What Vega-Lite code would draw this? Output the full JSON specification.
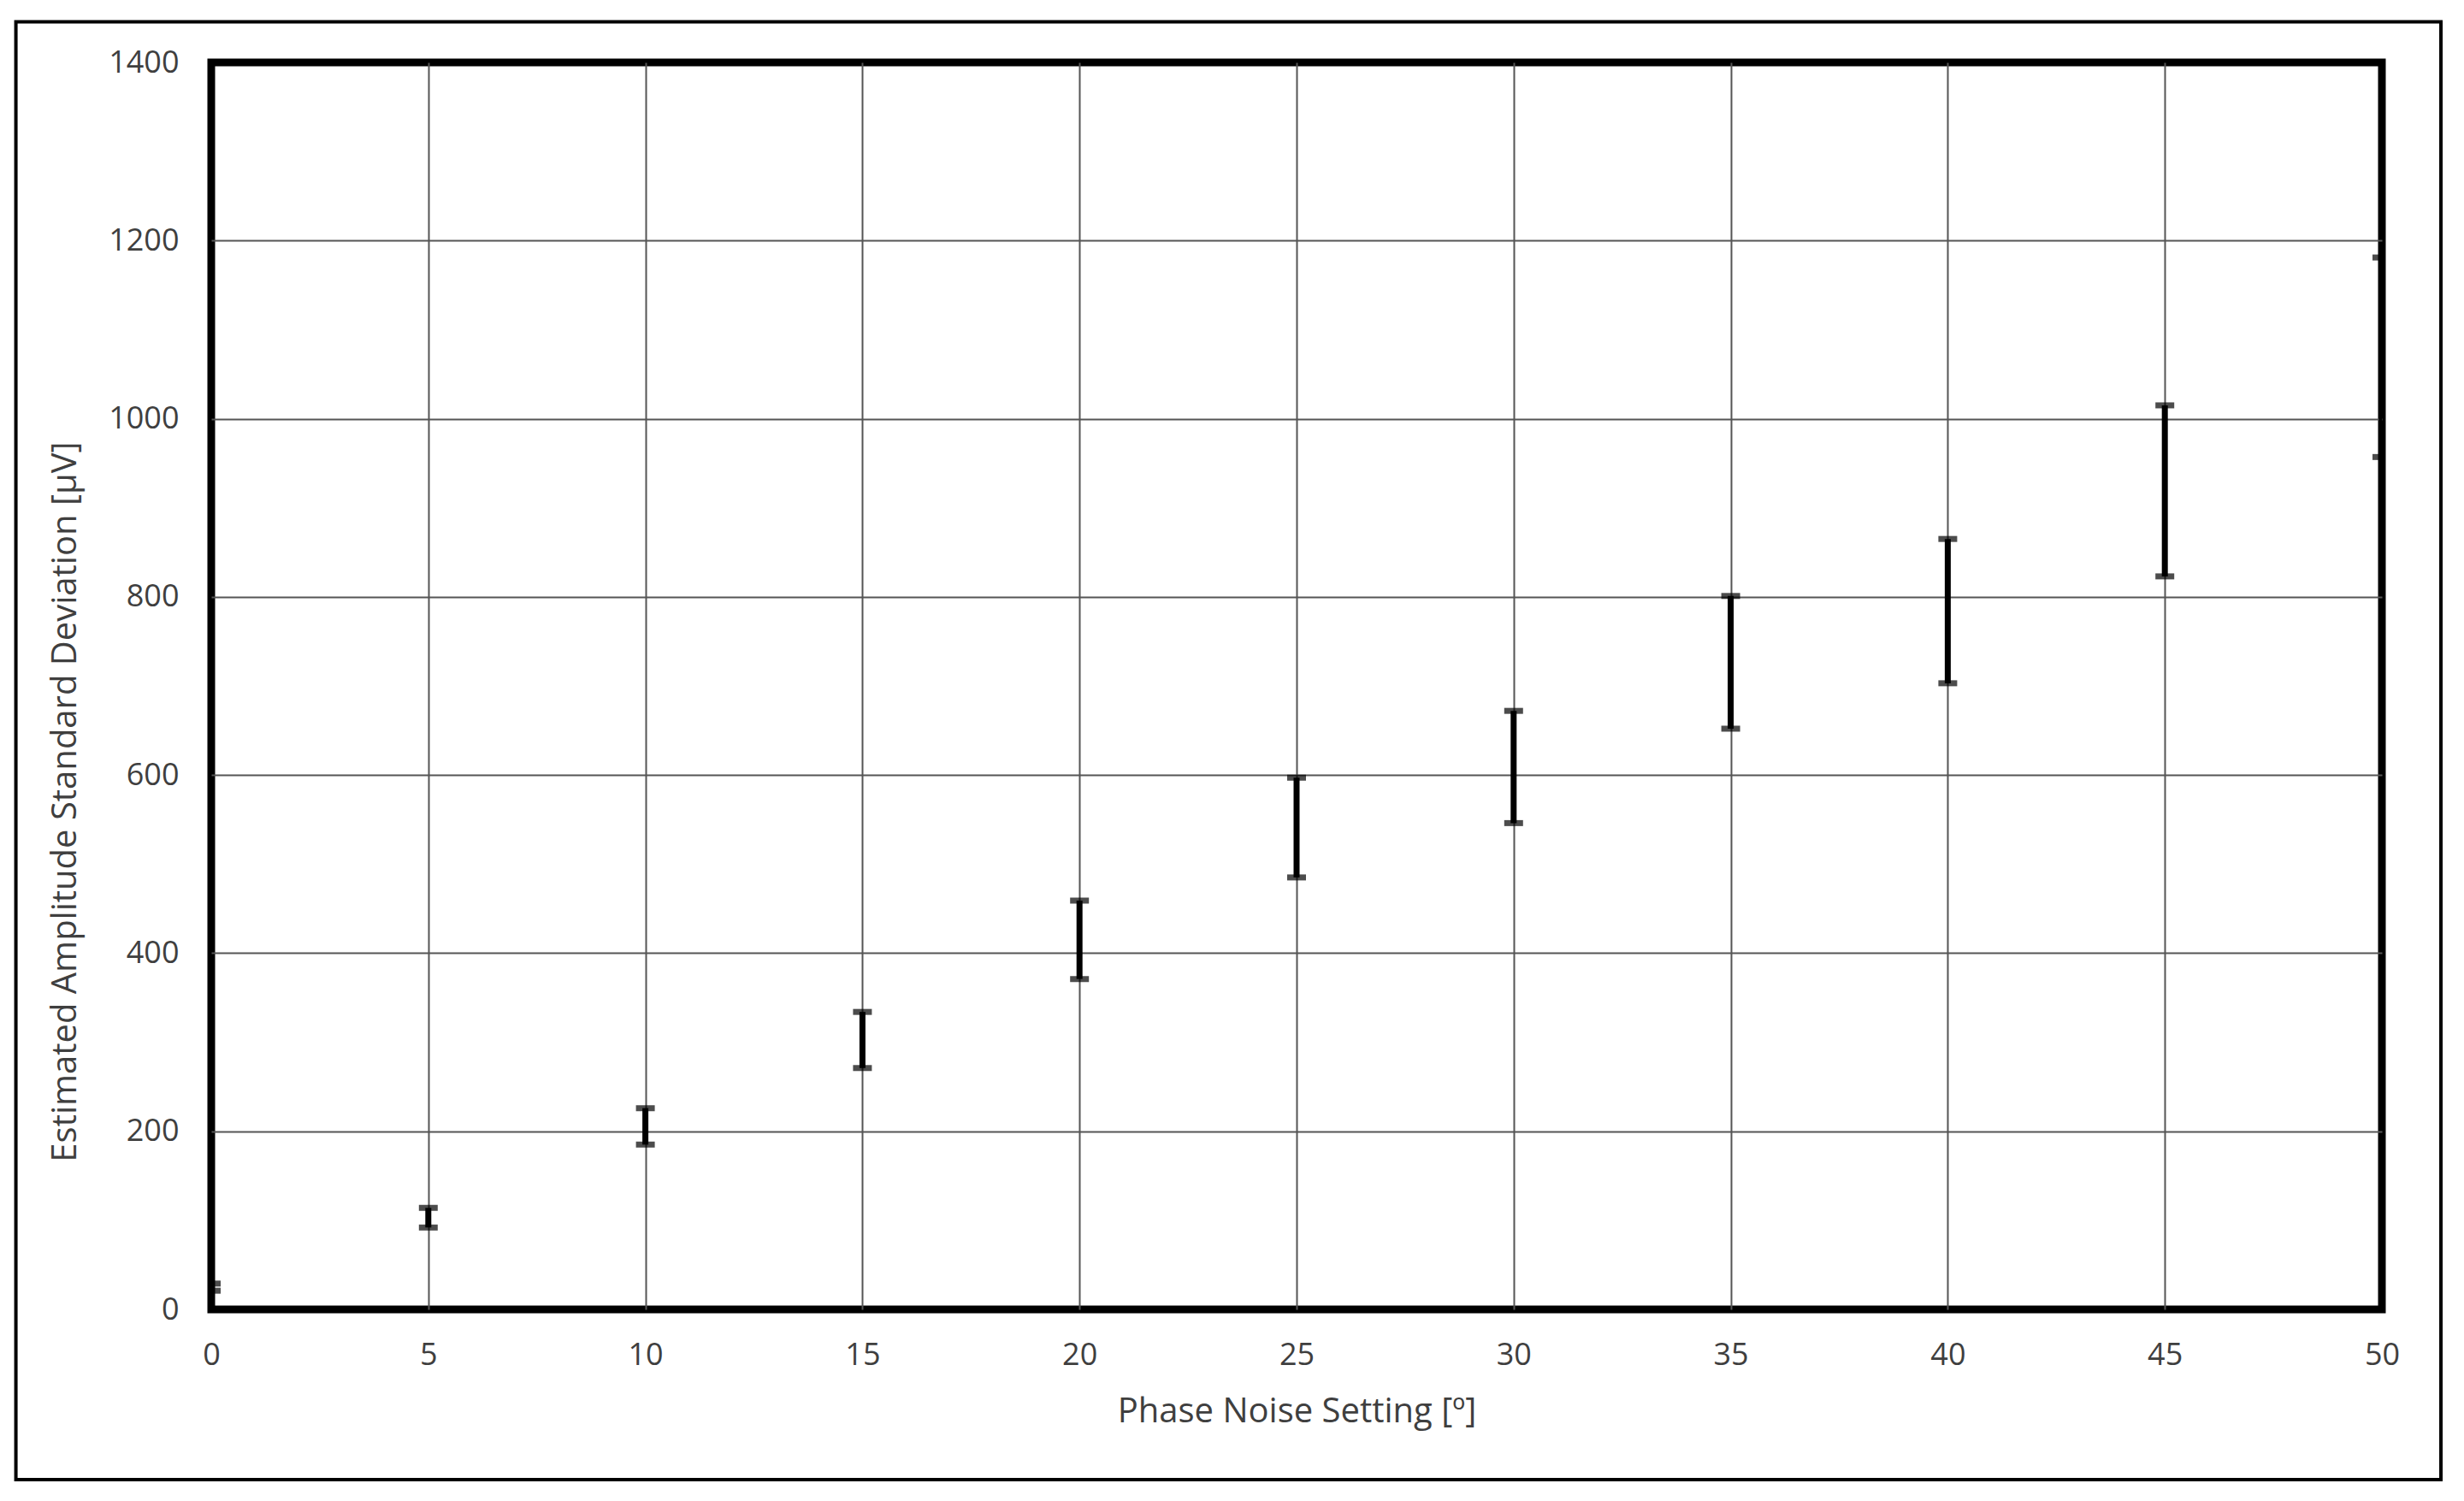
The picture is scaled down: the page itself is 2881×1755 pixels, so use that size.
{
  "$schema": "https://vega.github.io/schema/vega-lite/v6.json",
  "width": 2538,
  "height": 1458,
  "autosize": {"type": "none"},
  "padding": {"left": 247, "top": 73, "right": 96, "bottom": 224},
  "background": "white",
  "config": {
    "view": {"stroke": "black", "strokeWidth": 9},
    "font": "Open Sans",
    "axis": {
      "domain": false,
      "ticks": false,
      "tickSize": 0,
      "grid": true,
      "gridColor": "#555555",
      "gridWidth": 2,
      "labelFont": "Open Sans",
      "labelFontSize": 36,
      "labelColor": "#3f3f3f",
      "titleFont": "Open Sans",
      "titleFontSize": 40,
      "titleFontWeight": "normal",
      "titleColor": "#3f3f3f"
    }
  },
  "data": {
    "values": [
      {"setting": 0, "lo": 21, "hi": 29},
      {"setting": 5, "lo": 92, "hi": 114},
      {"setting": 10, "lo": 185, "hi": 226},
      {"setting": 15, "lo": 271, "hi": 334},
      {"setting": 20, "lo": 371, "hi": 459},
      {"setting": 25, "lo": 485, "hi": 597},
      {"setting": 30, "lo": 546, "hi": 672},
      {"setting": 35, "lo": 652, "hi": 801},
      {"setting": 40, "lo": 703, "hi": 865},
      {"setting": 45, "lo": 823, "hi": 1015},
      {"setting": 50, "lo": 957, "hi": 1181}
    ]
  },
  "layer": [
    {
      "mark": {"type": "rule", "strokeWidth": 7, "color": "black", "clip": true},
      "encoding": {
        "x": {
          "field": "setting",
          "type": "quantitative",
          "scale": {"domain": [0, 50], "nice": false, "zero": false},
          "axis": {
            "title": "Phase Noise Setting [º]",
            "values": [0, 5, 10, 15, 20, 25, 30, 35, 40, 45, 50],
            "format": "d",
            "labelPadding": 36,
            "labelFlush": false,
            "titleY": 131,
            "titleBaseline": "alphabetic",
            "gridOpacity": {"condition": {"test": "datum.value === 0 || datum.value === 50", "value": 0}, "value": 1}
          }
        },
        "y": {
          "field": "lo",
          "type": "quantitative",
          "scale": {"domain": [0, 1400], "nice": false},
          "axis": {
            "title": "Estimated Amplitude Standard Deviation [µV]",
            "values": [0, 200, 400, 600, 800, 1000, 1200, 1400],
            "format": "d",
            "labelPadding": 38,
            "labelFlush": false,
            "titleX": -159,
            "titleY": 864,
            "titleAlign": "center",
            "titleBaseline": "alphabetic",
            "titleAngle": -90,
            "gridOpacity": {"condition": {"test": "datum.value === 0 || datum.value === 1400", "value": 0}, "value": 1}
          }
        },
        "y2": {"field": "hi"}
      }
    },
    {
      "mark": {"type": "tick", "orient": "horizontal", "size": 22, "thickness": 7, "color": "black", "clip": true},
      "encoding": {
        "x": {"field": "setting", "type": "quantitative"},
        "y": {"field": "lo", "type": "quantitative"}
      }
    },
    {
      "mark": {"type": "tick", "orient": "horizontal", "size": 22, "thickness": 7, "color": "black", "clip": true},
      "encoding": {
        "x": {"field": "setting", "type": "quantitative"},
        "y": {"field": "hi", "type": "quantitative"}
      }
    },
    {
      "data": {"values": [{"frame": "chart area"}]},
      "mark": {"type": "rect", "filled": false, "stroke": "black", "strokeWidth": 4, "clip": false},
      "encoding": {
        "x": {"datum": -4.5, "type": "quantitative"},
        "x2": {"datum": 51.36},
        "y": {"datum": -191, "type": "quantitative"},
        "y2": {"datum": 1445.6},
        "color": {"value": "black"}
      }
    }
  ]
}
